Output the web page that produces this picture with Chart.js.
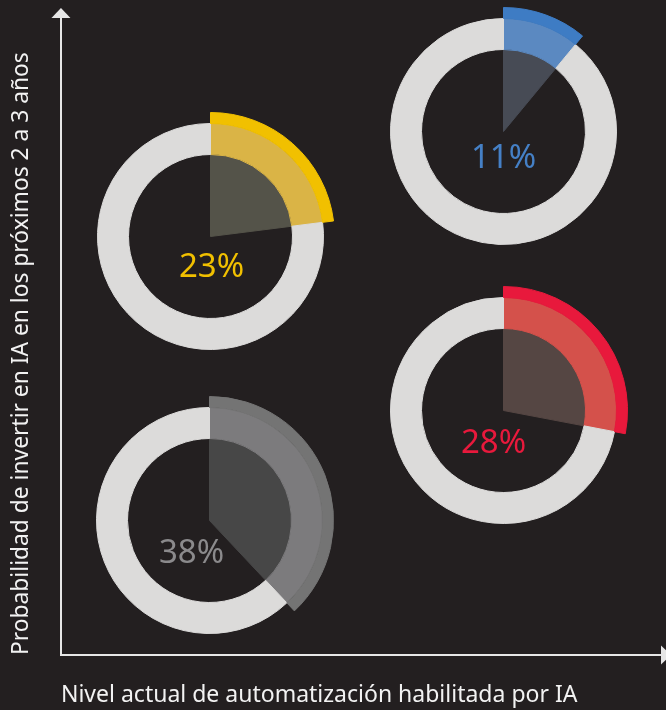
<!DOCTYPE html>
<html>
<head>
<meta charset="utf-8">
<script src="https://cdn.jsdelivr.net/npm/chart.js@4.4.1/dist/chart.umd.min.js"></script>
<style>
html, body { margin: 0; padding: 0; background: #231f20; }
#wrap { position: relative; width: 666px; height: 710px; overflow: hidden; background: #231f20; }
#axes { position: absolute; left: 0; top: 0; }
.donut { position: absolute; }
</style>
</head>
<body>
<div id="wrap">
  <canvas id="axes" width="666" height="710"></canvas>
  <canvas class="donut" id="d0" width="248" height="248"></canvas>
  <canvas class="donut" id="d1" width="248" height="248"></canvas>
  <canvas class="donut" id="d2" width="248" height="248"></canvas>
  <canvas class="donut" id="d3" width="248" height="248"></canvas>
</div>
<script>
// ---- data ----
const groups = [
  'Baja automatización, alta probabilidad',
  'Alta automatización, muy alta probabilidad',
  'Alta automatización, probabilidad media',
  'Baja automatización, baja probabilidad'
];
const shares = [23, 11, 28, 38];
const xAxisTitle = 'Nivel actual de automatización habilitada por IA';
const yAxisTitle = 'Probabilidad de invertir en IA en los próximos 2 a 3 años';

// ---- styles / layout (not data) ----
const RING = '#dcdbda';
const AXIS = '#e6e6e6';
const CLEAR = 'rgba(0,0,0,0)';
const palettes = [
  { rim: '#f1c000', ring: '#dab446', core: '#545349', text: '#f1c000' },
  { rim: '#3e7cc4', ring: '#5b89c1', core: '#474b55', text: '#4580c6' },
  { rim: '#e8193c', ring: '#d4514b', core: '#554643', text: '#e8193c' },
  { rim: '#747474', ring: '#7c7b7d', core: '#474747', text: '#8b8a8c' }
];
const placement = [
  { cx: 210, cy: 236, dx: 1,   dy: 40 },
  { cx: 503, cy: 131, dx: 0,   dy: 36 },
  { cx: 503, cy: 410, dx: -10, dy: 42 },
  { cx: 209, cy: 520, dx: -18, dy: 42 }
];
const SIZE = 249;

// ---- axes chart ----
const arrows = {
  id: 'arrows',
  afterDraw(chart) {
    const { ctx, chartArea: a } = chart;
    ctx.save();
    ctx.fillStyle = AXIS;
    ctx.beginPath();
    ctx.moveTo(a.left - 9.5, a.top);
    ctx.lineTo(a.left + 9.5, a.top);
    ctx.lineTo(a.left, a.top - 10);
    ctx.closePath();
    ctx.fill();
    ctx.beginPath();
    ctx.moveTo(a.right, a.bottom - 9.5);
    ctx.lineTo(a.right, a.bottom + 9.5);
    ctx.lineTo(a.right + 10, a.bottom);
    ctx.closePath();
    ctx.fill();
    ctx.restore();
  }
};

new Chart(document.getElementById('axes'), {
  type: 'scatter',
  data: { datasets: [] },
  options: {
    responsive: false,
    animation: false,
    events: [],
    layout: { padding: { top: 18, right: 5, bottom: 0, left: 0 } },
    plugins: { legend: { display: false }, tooltip: { enabled: false } },
    scales: {
      x: {
        type: 'linear', min: 0, max: 1,
        grid: { display: false, drawTicks: false },
        ticks: { display: false },
        border: { display: true, color: AXIS, width: 2 },
        title: {
          display: true, text: xAxisTitle, align: 'start', color: '#f2f2f2',
          font: { family: 'Noto Sans', size: 23, lineHeight: 1.2 },
          padding: { top: 26.6, bottom: 0.8 }
        }
      },
      y: {
        type: 'linear', min: 0, max: 1,
        grid: { display: false, drawTicks: false },
        ticks: { display: false },
        border: { display: true, color: AXIS, width: 2 },
        title: {
          display: true, text: yAxisTitle, align: 'start', color: '#f2f2f2',
          font: { family: 'Noto Sans', size: 22.8, lineHeight: 1.2 },
          padding: { top: 8.3, bottom: 25.3 }
        }
      }
    }
  },
  plugins: [arrows]
});

// ---- donut charts ----
const pctLabel = {
  id: 'pctLabel',
  afterDatasetsDraw(chart, args, opts) {
    const arc = chart.getDatasetMeta(0).data[0];
    const { ctx } = chart;
    ctx.save();
    ctx.font = '400 33px "Noto Sans"';
    ctx.fillStyle = opts.color;
    ctx.textAlign = 'center';
    ctx.textBaseline = 'alphabetic';
    ctx.fillText(opts.text, arc.x + opts.dx, arc.y + opts.dy);
    ctx.restore();
  }
};

shares.forEach((v, i) => {
  const p = palettes[i];
  const pos = placement[i];
  const el = document.getElementById('d' + i);
  el.width = SIZE;
  el.height = SIZE;
  el.style.left = (pos.cx - SIZE / 2) + 'px';
  el.style.top = (pos.cy - SIZE / 2) + 'px';
  const rest = 100 - v;
  const rimColors = [p.rim, CLEAR];
  const ringColors = [p.ring, RING];
  const coreColors = [p.core, CLEAR];
  new Chart(el, {
    type: 'doughnut',
    data: {
      labels: [groups[i], 'Resto'],
      datasets: [
        { data: [v, rest], backgroundColor: rimColors, borderColor: rimColors, weight: 11 },
        { data: [v, rest], backgroundColor: ringColors, borderColor: ringColors, weight: 31 },
        { data: [v, rest], backgroundColor: coreColors, borderColor: coreColors, weight: 82 }
      ]
    },
    options: {
      responsive: false,
      animation: false,
      events: [],
      cutout: 0,
      layout: { padding: 0 },
      elements: { arc: { borderWidth: 1 } },
      plugins: {
        legend: { display: false },
        tooltip: { enabled: false },
        pctLabel: { text: v + '%', color: p.text, dx: pos.dx, dy: pos.dy }
      }
    },
    plugins: [pctLabel]
  });
});
</script>
</body>
</html>
